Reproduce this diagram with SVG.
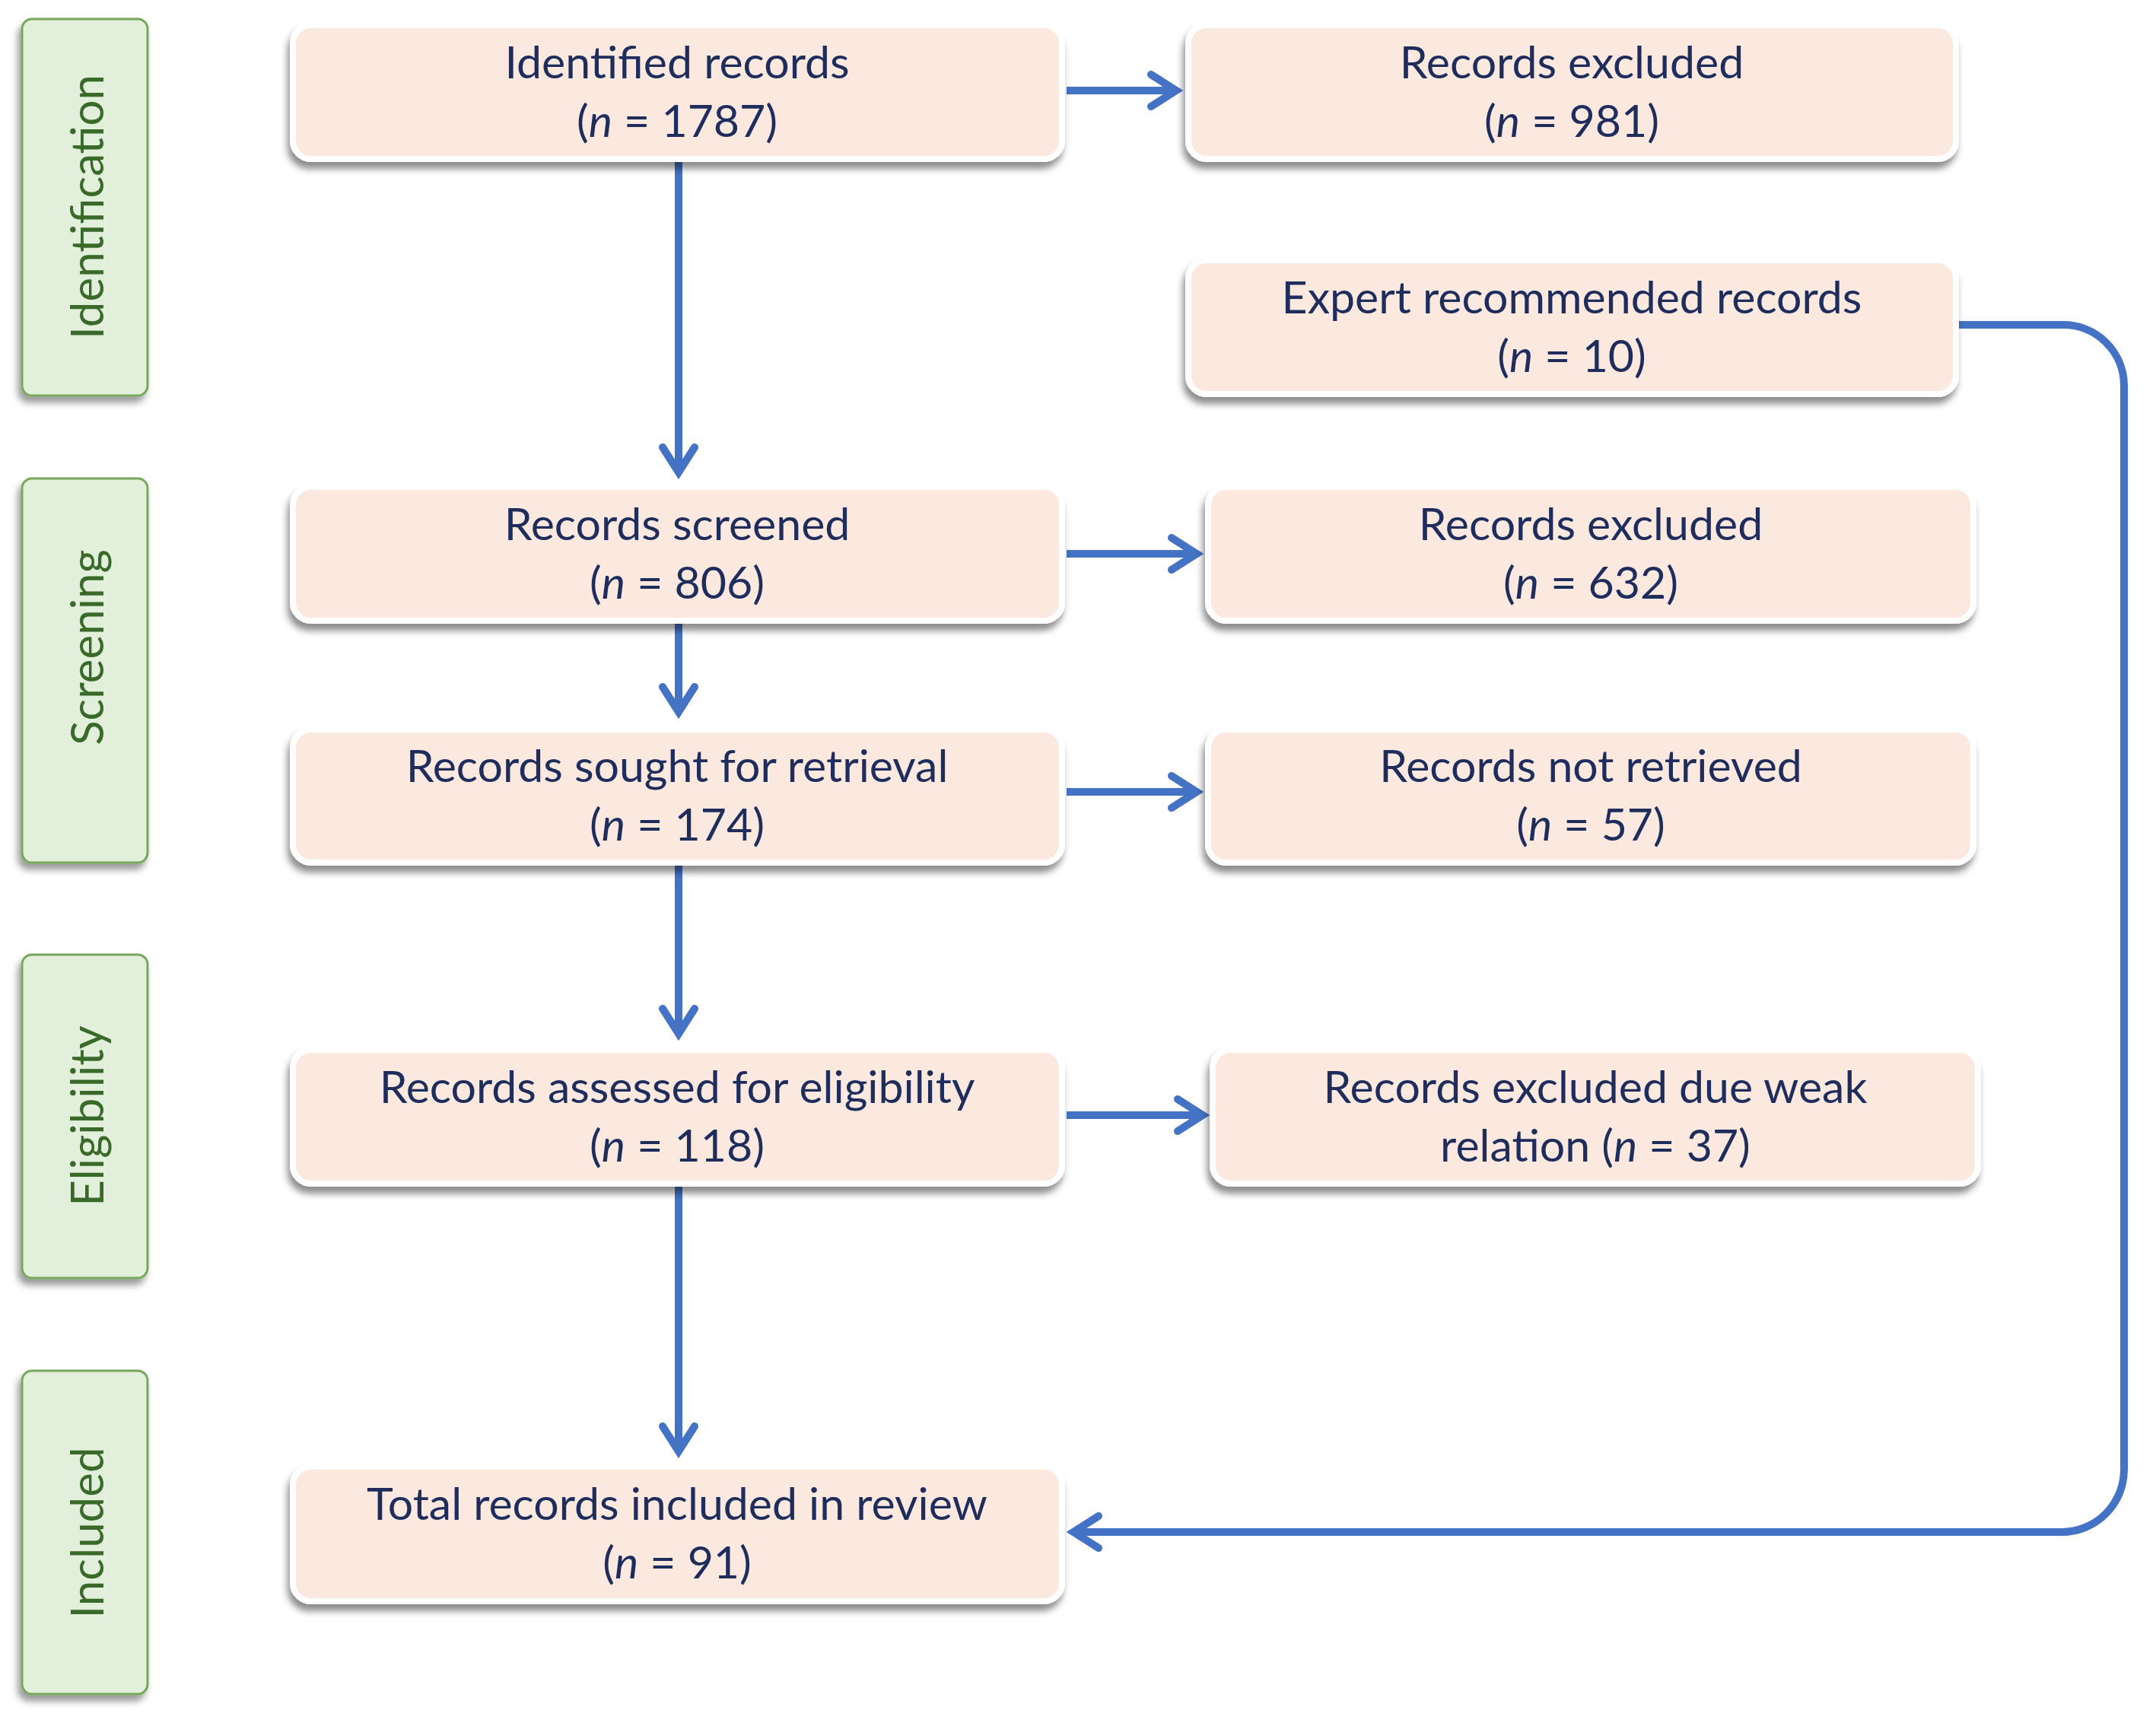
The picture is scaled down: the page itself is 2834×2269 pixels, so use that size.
<svg xmlns="http://www.w3.org/2000/svg" width="2834" height="2269" viewBox="0 0 2834 2269">
<defs>
<style>
.box{fill:#fbe9df;stroke:#ffffff;stroke-width:8;filter:url(#sh)}
.side{fill:#e2efda;stroke:#78a65a;stroke-width:3;filter:url(#sh2)}
.t{font-family:Lato,"Open Sans","Liberation Sans",sans-serif;font-size:59px;fill:#1e2d5c;text-anchor:middle}
.st{font-family:Lato,"Open Sans","Liberation Sans",sans-serif;font-size:60px;fill:#3a6a29;text-anchor:middle}
.c{fill:none;stroke:#4472c4;stroke-width:10}
.i{font-style:italic}
</style>
<filter id="sh" x="-10%" y="-20%" width="120%" height="150%">
<feDropShadow dx="-3" dy="9" stdDeviation="5" flood-color="#000" flood-opacity="0.45"/>
</filter>
<filter id="sh2" x="-30%" y="-10%" width="160%" height="125%">
<feDropShadow dx="-4" dy="8" stdDeviation="5" flood-color="#000" flood-opacity="0.4"/>
</filter>
<marker id="ah" markerUnits="userSpaceOnUse" viewBox="-50 -30 70 60" markerWidth="70" markerHeight="60" refX="0" refY="0" orient="auto" overflow="visible">
<path d="M-33,-21 L0,0 L-33,21" fill="none" stroke="#4472c4" stroke-width="10" stroke-linecap="round" stroke-linejoin="miter"/>
</marker>
</defs>
<rect width="2834" height="2269" fill="#ffffff"/>

<g id="stage-identification">
<rect class="side" x="29" y="25" width="165" height="495" rx="13"/>
<text class="st" transform="translate(136,272) rotate(-90)">Identification</text>
</g>
<g id="stage-screening">
<rect class="side" x="29" y="629" width="165" height="505" rx="13"/>
<text class="st" transform="translate(136,851) rotate(-90)">Screening</text>
</g>
<g id="stage-eligibility">
<rect class="side" x="29" y="1255" width="165" height="425" rx="13"/>
<text class="st" transform="translate(136,1467) rotate(-90)">Eligibility</text>
</g>
<g id="stage-included">
<rect class="side" x="29" y="1802" width="165" height="425" rx="13"/>
<text class="st" transform="translate(136,2015) rotate(-90)">Included</text>
</g>

<g id="connectors">
<path class="c" d="M1402,119 H1546" marker-end="url(#ah)"/>
<path class="c" d="M892,213 V621" marker-end="url(#ah)"/>
<path class="c" d="M1402,728 H1573" marker-end="url(#ah)"/>
<path class="c" d="M892,820 V936" marker-end="url(#ah)"/>
<path class="c" d="M1402,1041 H1573" marker-end="url(#ah)"/>
<path class="c" d="M892,1138 V1359" marker-end="url(#ah)"/>
<path class="c" d="M1402,1466 H1581" marker-end="url(#ah)"/>
<path class="c" d="M892,1560 V1908" marker-end="url(#ah)"/>
<path class="c" d="M2572,427 H2712 A80,80 0 0 1 2792,507 V1932 A82,82 0 0 1 2710,2014 H1411" marker-end="url(#ah)"/>
</g>

<g id="identified">
<rect class="box" x="385" y="33" width="1011" height="176" rx="24"/>
<text class="t" x="890" y="103">Identified records</text>
<text class="t" x="890" y="180">(<tspan class="i">n</tspan> = 1787)</text>
</g>
<g id="excluded-981">
<rect class="box" x="1562" y="33" width="1009" height="176" rx="24"/>
<text class="t" x="2066" y="103">Records excluded</text>
<text class="t" x="2066" y="180">(<tspan class="i">n</tspan> = 981)</text>
</g>
<g id="expert">
<rect class="box" x="1562" y="342" width="1009" height="176" rx="24"/>
<text class="t" x="2066" y="412">Expert recommended records</text>
<text class="t" x="2066" y="489">(<tspan class="i">n</tspan> = 10)</text>
</g>
<g id="screened">
<rect class="box" x="385" y="640" width="1011" height="176" rx="24"/>
<text class="t" x="890" y="710">Records screened</text>
<text class="t" x="890" y="787">(<tspan class="i">n</tspan> = 806)</text>
</g>
<g id="excluded-632">
<rect class="box" x="1588" y="640" width="1006" height="176" rx="24"/>
<text class="t" x="2091" y="710">Records excluded</text>
<text class="t" x="2091" y="787">(<tspan class="i">n</tspan> = 632)</text>
</g>
<g id="sought">
<rect class="box" x="385" y="959" width="1011" height="175" rx="24"/>
<text class="t" x="890" y="1028">Records sought for retrieval</text>
<text class="t" x="890" y="1105">(<tspan class="i">n</tspan> = 174)</text>
</g>
<g id="not-retrieved">
<rect class="box" x="1588" y="959" width="1006" height="175" rx="24"/>
<text class="t" x="2091" y="1028">Records not retrieved</text>
<text class="t" x="2091" y="1105">(<tspan class="i">n</tspan> = 57)</text>
</g>
<g id="assessed">
<rect class="box" x="385" y="1380" width="1011" height="176" rx="24"/>
<text class="t" x="890" y="1450">Records assessed for eligibility</text>
<text class="t" x="890" y="1527">(<tspan class="i">n</tspan> = 118)</text>
</g>
<g id="excluded-weak">
<rect class="box" x="1594" y="1380" width="1006" height="176" rx="24"/>
<text class="t" x="2097" y="1450">Records excluded due weak</text>
<text class="t" x="2097" y="1527">relation (<tspan class="i">n</tspan> = 37)</text>
</g>
<g id="included">
<rect class="box" x="385" y="1928" width="1011" height="177" rx="24"/>
<text class="t" x="890" y="1998">Total records included in review</text>
<text class="t" x="890" y="2075">(<tspan class="i">n</tspan> = 91)</text>
</g>
</svg>
